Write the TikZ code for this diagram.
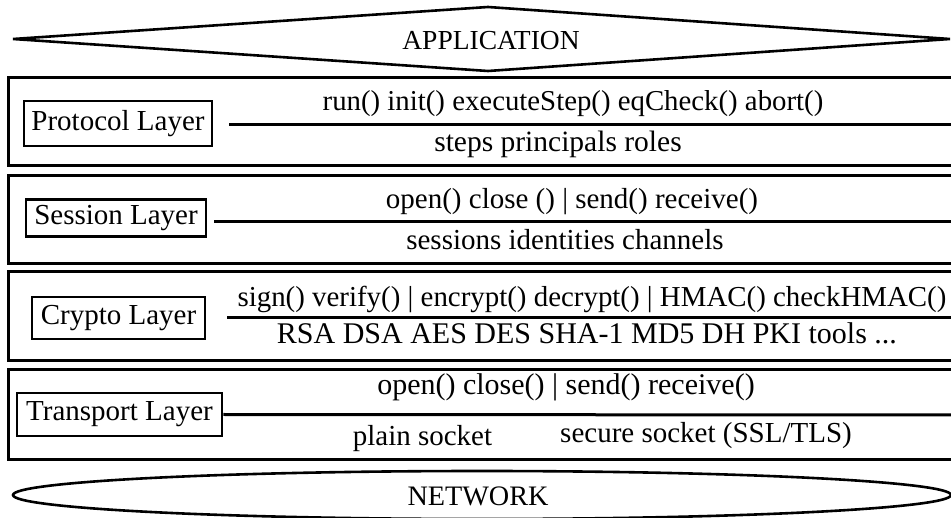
\documentclass[tikz,border=0pt]{standalone}
\usepackage{fontspec}
\setmainfont{Liberation Serif}
\newcommand{\fsz}[1]{\fontsize{#1}{#1}\selectfont}
\begin{document}
\begin{tikzpicture}[x=1pt,y=-1pt,
  txt/.style={inner sep=0pt, anchor=base},
  layer/.style={draw, line width=3pt},
  lab/.style={draw, line width=2.5pt, inner sep=0pt, font=\fsz{29}},
  conn/.style={line width=3pt},
  outline/.style={draw, line width=2.6pt}]
\useasboundingbox (0,0) rectangle (951,518);
\clip (0,0) rectangle (951,518);
% application diamond
\draw[outline, line join=miter] (13,39) -- (488,7) -- (950,39) -- (488,71) -- cycle;
\node[txt, font=\fsz{27.5}] (app) at (491,50) {APPLICATION};
% layer frames
\draw[layer] (8,78) rectangle (965,166);
\draw[layer] (8,176) rectangle (965,264);
\draw[layer] (8,272) rectangle (965,361);
\draw[layer] (8,370) rectangle (965,460);
% protocol layer
\node[lab, minimum width=188pt, minimum height=45pt] (pl) at (118,123.5) {Protocol Layer};
\coordinate (pa) at (229,125); \coordinate (pb) at (965,125);
\draw[conn] (pa) -- (pb);
\node[txt, font=\fsz{28.8}] (pt) at (573,111) {run() init() executeStep() eqCheck() abort()};
\node[txt, font=\fsz{29.5}] (pbt) at (558,152) {steps principals roles};
% session layer
\node[lab, minimum width=180pt, minimum height=37pt] (sl) at (116,218) {Session Layer};
\coordinate (sa) at (214,222); \coordinate (sb) at (965,222);
\draw[conn] (sa) -- (sb);
\node[txt, font=\fsz{29}] (st) at (572,209) {open() close () | send() receive()};
\node[txt, font=\fsz{29}] (sbt) at (565,250) {sessions identities channels};
% crypto layer
\node[lab, minimum width=173pt, minimum height=42pt] (cl) at (118.5,318) {Crypto Layer};
\coordinate (ca) at (227,318); \coordinate (cb) at (965,318);
\draw[conn] (ca) -- (cb);
\node[txt, font=\fsz{28.9}] (ct) at (592,307) {sign() verify() | encrypt() decrypt() | HMAC() checkHMAC()};
\node[txt, font=\fsz{30}] (cbt) at (587,344) {RSA DSA AES DES SHA-1 MD5 DH PKI tools ...};
% transport layer
\node[lab, minimum width=205pt, minimum height=43pt] (tl) at (119.5,414.5) {Transport Layer};
\coordinate (tb) at (965,415);
\draw[conn] (tl.east) -- (tb);
\node[txt, font=\fsz{30}] (tt) at (566,395) {open() close() | send() receive()};
\node[txt, font=\fsz{29}] (tp) at (422.5,446) {plain socket};
\node[txt, font=\fsz{29}] (ts) at (706,443) {secure socket (SSL/TLS)};
% network ellipse
\draw[outline] (482,495) ellipse [x radius=469, y radius=24];
\node[txt, font=\fsz{28.2}] (net) at (478,506) {NETWORK};
\end{tikzpicture}
\end{document}
